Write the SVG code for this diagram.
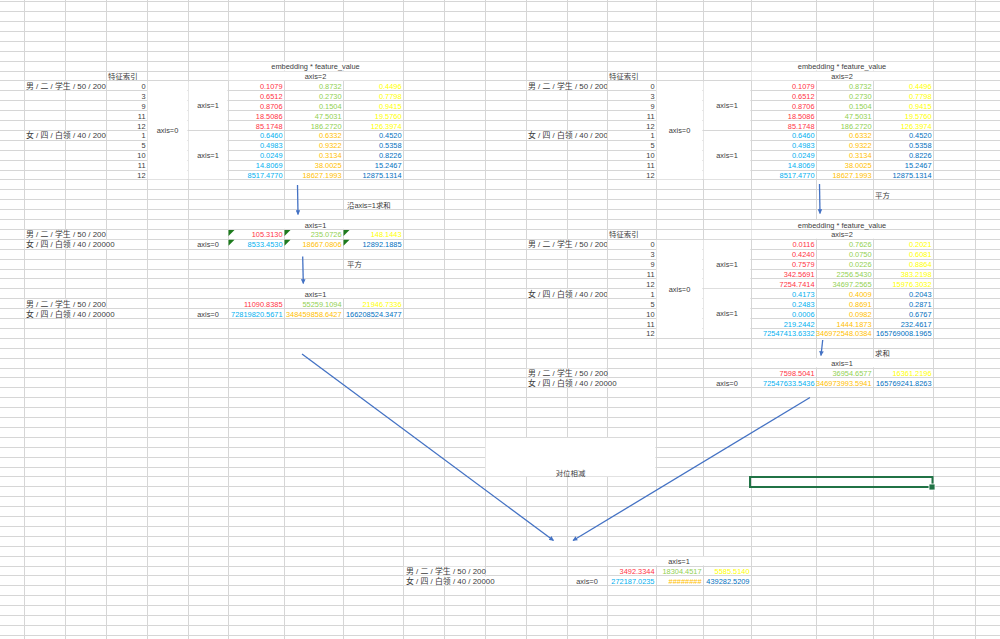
<svg xmlns="http://www.w3.org/2000/svg" width="1000" height="639" viewBox="0 0 1000 639">
<style>
text{font-family:"Liberation Sans","Noto Sans CJK SC",sans-serif;font-size:7.4px;fill:#3c3c3c}
.lb{font-size:7.9px}
.n{text-anchor:end}
.m{text-anchor:middle}
.r{fill:#FF3344}.g{fill:#92D050}.y{fill:#FFFF00}.c{fill:#00B0F0}.o{fill:#FFC000}.b{fill:#0070C0}
.grid{stroke:#D6D6D6;stroke-width:1;fill:none;shape-rendering:crispEdges}
.w{fill:#fff}
.arr{stroke:#4472C4;stroke-width:1.3;fill:none;marker-end:url(#ah)}
.tri{fill:#1E7B1E}
</style>
<defs>
<marker id="ah" viewBox="0 0 10 10" refX="9" refY="5" markerWidth="4" markerHeight="3.6" orient="auto"><path d="M0,0 L10,5 L0,10 z" fill="#4472C4"/></marker>
<clipPath id="cl1"><rect x="24" y="80" width="82" height="100"/></clipPath>
<clipPath id="cl2"><rect x="526" y="80" width="81" height="100"/></clipPath>
<clipPath id="cl3"><rect x="526" y="239" width="81" height="100"/></clipPath>
</defs>
<rect width="1000" height="639" fill="#fff"/>
<g id="grid">
<path class="grid" d="M0,1.7H1000M0,11.6H1000M0,21.5H1000M0,31.4H1000M0,41.3H1000M0,51.2H1000M0,61.1H1000M0,71H1000M0,80.9H1000M0,90.8H1000M0,100.7H1000M0,110.6H1000M0,120.5H1000M0,130.4H1000M0,140.3H1000M0,150.2H1000M0,160.1H1000M0,170H1000M0,179.9H1000M0,189.8H1000M0,199.7H1000M0,209.6H1000M0,219.5H1000M0,229.4H1000M0,239.3H1000M0,249.2H1000M0,259.1H1000M0,269H1000M0,278.9H1000M0,288.8H1000M0,298.7H1000M0,308.6H1000M0,318.5H1000M0,328.4H1000M0,338.3H1000M0,348.2H1000M0,358.1H1000M0,368H1000M0,377.9H1000M0,387.8H1000M0,397.7H1000M0,407.6H1000M0,417.5H1000M0,427.4H1000M0,437.3H1000M0,447.2H1000M0,457.1H1000M0,467H1000M0,476.9H1000M0,486.8H1000M0,496.7H1000M0,506.6H1000M0,516.5H1000M0,526.4H1000M0,536.3H1000M0,546.2H1000M0,556.1H1000M0,566H1000M0,575.9H1000M0,585.8H1000M0,595.7H1000M0,605.6H1000M0,615.5H1000M0,625.4H1000M0,635.3H1000"/>
<path class="grid" d="M24,0V639M65,0V639M106,0V639M147,0V639M188,0V639M228,0V639M284,0V639M343,0V639M403,0V639M444,0V639M485,0V639M526,0V639M567,0V639M607,0V639M656,0V639M703,0V639M751,0V639M816,0V639M873,0V639M933,0V639M975,0V639"/>
<rect class="w" x="228.6" y="61.7" width="173.8" height="8.7"/>
<rect class="w" x="228.6" y="71.6" width="173.8" height="8.7"/>
<rect class="w" x="147.6" y="81.5" width="39.8" height="97.8"/>
<rect class="w" x="188.6" y="81.5" width="38.8" height="48.3"/>
<rect class="w" x="188.6" y="131" width="38.8" height="48.3"/>
<rect class="w" x="228.6" y="220.1" width="173.8" height="8.7"/>
<rect class="w" x="228.6" y="289.4" width="173.8" height="8.7"/>
<rect class="w" x="751.6" y="61.7" width="180.8" height="8.7"/>
<rect class="w" x="751.6" y="71.6" width="180.8" height="8.7"/>
<rect class="w" x="656.6" y="81.5" width="45.8" height="97.8"/>
<rect class="w" x="703.6" y="81.5" width="46.8" height="48.3"/>
<rect class="w" x="703.6" y="131" width="46.8" height="48.3"/>
<rect class="w" x="751.6" y="220.1" width="180.8" height="8.7"/>
<rect class="w" x="751.6" y="230" width="180.8" height="8.7"/>
<rect class="w" x="656.6" y="239.9" width="45.8" height="97.8"/>
<rect class="w" x="703.6" y="239.9" width="46.8" height="48.3"/>
<rect class="w" x="703.6" y="289.4" width="46.8" height="48.3"/>
<rect class="w" x="751.6" y="358.7" width="180.8" height="8.7"/>
<rect class="w" x="607.6" y="556.7" width="142.8" height="8.7"/>
<rect class="w" x="485.6" y="437.9" width="169.8" height="38.4"/>
<rect class="w" x="24.6" y="81.5" width="80.8" height="8.7"/>
<rect class="w" x="24.6" y="131" width="80.8" height="8.7"/>
<rect class="w" x="526.6" y="81.5" width="79.8" height="8.7"/>
<rect class="w" x="526.6" y="131" width="79.8" height="8.7"/>
<rect class="w" x="526.6" y="239.9" width="79.8" height="8.7"/>
<rect class="w" x="526.6" y="289.4" width="79.8" height="8.7"/>
<rect class="w" x="24.6" y="230" width="80.8" height="8.7"/>
<rect class="w" x="24.6" y="239.9" width="121.8" height="8.7"/>
<rect class="w" x="24.6" y="299.3" width="80.8" height="8.7"/>
<rect class="w" x="24.6" y="309.2" width="121.8" height="8.7"/>
<rect class="w" x="526.6" y="368.6" width="79.8" height="8.7"/>
<rect class="w" x="526.6" y="378.5" width="128.8" height="8.7"/>
<rect class="w" x="403.6" y="566.6" width="80.8" height="8.7"/>
<rect class="w" x="403.6" y="576.5" width="121.8" height="8.7"/>
</g>

<g id="connectors">
<path class="arr" d="M297.5,185 L298,214.5"/>
<path class="arr" d="M302.7,256.5 L303.3,283.5"/>
<path class="arr" d="M819.5,184 L820,213.5"/>
<path class="arr" d="M822.7,340 L821,355.5"/>
<path class="arr" d="M302,354 L553.5,540.5"/>
<path class="arr" d="M810,397.5 L573,540.5"/>
</g>

<g id="table-left-top">
<text class="m" x="315.5" y="69.1">embedding * feature_value</text>
<text x="108" y="79">特征索引</text>
<text class="m" x="315.5" y="79">axis=2</text>
<text class="lb" x="26" y="88.9" clip-path="url(#cl1)">男 / 二 / 学生 / 50 / 200</text>
<text class="lb" x="26" y="138.4" clip-path="url(#cl1)">女 / 四 / 白领 / 40 / 20000</text>
<text class="n" x="145.5" y="88.9">0</text>
<text class="n" x="145.5" y="98.8">3</text>
<text class="n" x="145.5" y="108.7">9</text>
<text class="n" x="145.5" y="118.6">11</text>
<text class="n" x="145.5" y="128.5">12</text>
<text class="n" x="145.5" y="138.4">1</text>
<text class="n" x="145.5" y="148.3">5</text>
<text class="n" x="145.5" y="158.2">10</text>
<text class="n" x="145.5" y="168.1">11</text>
<text class="n" x="145.5" y="178">12</text>
<text class="m" x="167.5" y="133.1">axis=0</text>
<text class="m" x="208" y="108.4">axis=1</text>
<text class="m" x="208" y="157.9">axis=1</text>
<text class="n r" x="282.5" y="88.9">0.1079</text>
<text class="n r" x="282.5" y="98.8">0.6512</text>
<text class="n r" x="282.5" y="108.7">0.8706</text>
<text class="n r" x="282.5" y="118.6">18.5086</text>
<text class="n r" x="282.5" y="128.5">85.1748</text>
<text class="n g" x="341.5" y="88.9">0.8732</text>
<text class="n g" x="341.5" y="98.8">0.2730</text>
<text class="n g" x="341.5" y="108.7">0.1504</text>
<text class="n g" x="341.5" y="118.6">47.5031</text>
<text class="n g" x="341.5" y="128.5">186.2720</text>
<text class="n y" x="401.5" y="88.9">0.4496</text>
<text class="n y" x="401.5" y="98.8">0.7798</text>
<text class="n y" x="401.5" y="108.7">0.9415</text>
<text class="n y" x="401.5" y="118.6">19.5760</text>
<text class="n y" x="401.5" y="128.5">126.3974</text>
<text class="n c" x="282.5" y="138.4">0.6460</text>
<text class="n c" x="282.5" y="148.3">0.4983</text>
<text class="n c" x="282.5" y="158.2">0.0249</text>
<text class="n c" x="282.5" y="168.1">14.8069</text>
<text class="n c" x="282.5" y="178">8517.4770</text>
<text class="n o" x="341.5" y="138.4">0.6332</text>
<text class="n o" x="341.5" y="148.3">0.9322</text>
<text class="n o" x="341.5" y="158.2">0.3134</text>
<text class="n o" x="341.5" y="168.1">38.0025</text>
<text class="n o" x="341.5" y="178">18627.1993</text>
<text class="n b" x="401.5" y="138.4">0.4520</text>
<text class="n b" x="401.5" y="148.3">0.5358</text>
<text class="n b" x="401.5" y="158.2">0.8226</text>
<text class="n b" x="401.5" y="168.1">15.2467</text>
<text class="n b" x="401.5" y="178">12875.1314</text>
</g>

<g id="label-sum">
<text x="347" y="207.7">沿axis=1求和</text>
</g>

<g id="table-left-sum">
<text class="m" x="315.5" y="227.5">axis=1</text>
<text class="lb" x="26" y="237.4">男 / 二 / 学生 / 50 / 200</text>
<text class="lb" x="26" y="247.3">女 / 四 / 白领 / 40 / 20000</text>
<text class="m" x="208" y="247.3">axis=0</text>
<text class="n r" x="282.5" y="237.4">105.3130</text>
<text class="n g" x="341.5" y="237.4">235.0726</text>
<text class="n y" x="401.5" y="237.4">148.1443</text>
<text class="n c" x="282.5" y="247.3">8533.4530</text>
<text class="n o" x="341.5" y="247.3">18667.0806</text>
<text class="n b" x="401.5" y="247.3">12892.1885</text>
<polygon class="tri" points="228.5,229.9 234.5,229.9 228.5,235.9"/>
<polygon class="tri" points="284.5,229.9 290.5,229.9 284.5,235.9"/>
<polygon class="tri" points="343.5,229.9 349.5,229.9 343.5,235.9"/>
<polygon class="tri" points="228.5,239.8 234.5,239.8 228.5,245.8"/>
<polygon class="tri" points="284.5,239.8 290.5,239.8 284.5,245.8"/>
<polygon class="tri" points="343.5,239.8 349.5,239.8 343.5,245.8"/>
</g>

<g id="label-square-left">
<text x="347" y="267.1">平方</text>
</g>

<g id="table-left-square">
<text class="m" x="315.5" y="296.8">axis=1</text>
<text class="lb" x="26" y="306.7">男 / 二 / 学生 / 50 / 200</text>
<text class="lb" x="26" y="316.6">女 / 四 / 白领 / 40 / 20000</text>
<text class="m" x="208" y="316.6">axis=0</text>
<text class="n r" x="282.5" y="306.7">11090.8385</text>
<text class="n g" x="341.5" y="306.7">55259.1094</text>
<text class="n y" x="401.5" y="306.7">21946.7336</text>
<text class="n c" x="282.5" y="316.6">72819820.5671</text>
<text class="n o" x="341.5" y="316.6">348459858.6427</text>
<text class="n b" x="401.5" y="316.6">166208524.3477</text>
</g>

<g id="table-right-top">
<text class="m" x="842" y="69.1">embedding * feature_value</text>
<text x="609" y="79">特征索引</text>
<text class="m" x="842" y="79">axis=2</text>
<text class="lb" x="528" y="88.9" clip-path="url(#cl2)">男 / 二 / 学生 / 50 / 200</text>
<text class="lb" x="528" y="138.4" clip-path="url(#cl2)">女 / 四 / 白领 / 40 / 20000</text>
<text class="n" x="654.5" y="88.9">0</text>
<text class="n" x="654.5" y="98.8">3</text>
<text class="n" x="654.5" y="108.7">9</text>
<text class="n" x="654.5" y="118.6">11</text>
<text class="n" x="654.5" y="128.5">12</text>
<text class="n" x="654.5" y="138.4">1</text>
<text class="n" x="654.5" y="148.3">5</text>
<text class="n" x="654.5" y="158.2">10</text>
<text class="n" x="654.5" y="168.1">11</text>
<text class="n" x="654.5" y="178">12</text>
<text class="m" x="679.5" y="133.1">axis=0</text>
<text class="m" x="727" y="108.4">axis=1</text>
<text class="m" x="727" y="157.9">axis=1</text>
<text class="n r" x="814.5" y="88.9">0.1079</text>
<text class="n r" x="814.5" y="98.8">0.6512</text>
<text class="n r" x="814.5" y="108.7">0.8706</text>
<text class="n r" x="814.5" y="118.6">18.5086</text>
<text class="n r" x="814.5" y="128.5">85.1748</text>
<text class="n g" x="871.5" y="88.9">0.8732</text>
<text class="n g" x="871.5" y="98.8">0.2730</text>
<text class="n g" x="871.5" y="108.7">0.1504</text>
<text class="n g" x="871.5" y="118.6">47.5031</text>
<text class="n g" x="871.5" y="128.5">186.2720</text>
<text class="n y" x="931.5" y="88.9">0.4496</text>
<text class="n y" x="931.5" y="98.8">0.7798</text>
<text class="n y" x="931.5" y="108.7">0.9415</text>
<text class="n y" x="931.5" y="118.6">19.5760</text>
<text class="n y" x="931.5" y="128.5">126.3974</text>
<text class="n c" x="814.5" y="138.4">0.6460</text>
<text class="n c" x="814.5" y="148.3">0.4983</text>
<text class="n c" x="814.5" y="158.2">0.0249</text>
<text class="n c" x="814.5" y="168.1">14.8069</text>
<text class="n c" x="814.5" y="178">8517.4770</text>
<text class="n o" x="871.5" y="138.4">0.6332</text>
<text class="n o" x="871.5" y="148.3">0.9322</text>
<text class="n o" x="871.5" y="158.2">0.3134</text>
<text class="n o" x="871.5" y="168.1">38.0025</text>
<text class="n o" x="871.5" y="178">18627.1993</text>
<text class="n b" x="931.5" y="138.4">0.4520</text>
<text class="n b" x="931.5" y="148.3">0.5358</text>
<text class="n b" x="931.5" y="158.2">0.8226</text>
<text class="n b" x="931.5" y="168.1">15.2467</text>
<text class="n b" x="931.5" y="178">12875.1314</text>
</g>

<g id="label-square-right">
<text x="875" y="197.8">平方</text>
</g>

<g id="table-right-square">
<text class="m" x="842" y="227.5">embedding * feature_value</text>
<text x="609" y="237.4">特征索引</text>
<text class="m" x="842" y="237.4">axis=2</text>
<text class="lb" x="528" y="247.3" clip-path="url(#cl3)">男 / 二 / 学生 / 50 / 200</text>
<text class="lb" x="528" y="296.8" clip-path="url(#cl3)">女 / 四 / 白领 / 40 / 20000</text>
<text class="n" x="654.5" y="247.3">0</text>
<text class="n" x="654.5" y="257.2">3</text>
<text class="n" x="654.5" y="267.1">9</text>
<text class="n" x="654.5" y="277">11</text>
<text class="n" x="654.5" y="286.9">12</text>
<text class="n" x="654.5" y="296.8">1</text>
<text class="n" x="654.5" y="306.7">5</text>
<text class="n" x="654.5" y="316.6">10</text>
<text class="n" x="654.5" y="326.5">11</text>
<text class="n" x="654.5" y="336.4">12</text>
<text class="m" x="679.5" y="291.5">axis=0</text>
<text class="m" x="727" y="266.8">axis=1</text>
<text class="m" x="727" y="316.3">axis=1</text>
<text class="n r" x="814.5" y="247.3">0.0116</text>
<text class="n r" x="814.5" y="257.2">0.4240</text>
<text class="n r" x="814.5" y="267.1">0.7579</text>
<text class="n r" x="814.5" y="277">342.5691</text>
<text class="n r" x="814.5" y="286.9">7254.7414</text>
<text class="n g" x="871.5" y="247.3">0.7626</text>
<text class="n g" x="871.5" y="257.2">0.0750</text>
<text class="n g" x="871.5" y="267.1">0.0226</text>
<text class="n g" x="871.5" y="277">2256.5430</text>
<text class="n g" x="871.5" y="286.9">34697.2565</text>
<text class="n y" x="931.5" y="247.3">0.2021</text>
<text class="n y" x="931.5" y="257.2">0.6081</text>
<text class="n y" x="931.5" y="267.1">0.8864</text>
<text class="n y" x="931.5" y="277">383.2198</text>
<text class="n y" x="931.5" y="286.9">15976.3032</text>
<text class="n c" x="814.5" y="296.8">0.4173</text>
<text class="n c" x="814.5" y="306.7">0.2483</text>
<text class="n c" x="814.5" y="316.6">0.0006</text>
<text class="n c" x="814.5" y="326.5">219.2442</text>
<text class="n c" x="814.5" y="336.4">72547413.6332</text>
<text class="n o" x="871.5" y="296.8">0.4009</text>
<text class="n o" x="871.5" y="306.7">0.8691</text>
<text class="n o" x="871.5" y="316.6">0.0982</text>
<text class="n o" x="871.5" y="326.5">1444.1873</text>
<text class="n o" x="871.5" y="336.4">346972548.0384</text>
<text class="n b" x="931.5" y="296.8">0.2043</text>
<text class="n b" x="931.5" y="306.7">0.2871</text>
<text class="n b" x="931.5" y="316.6">0.6767</text>
<text class="n b" x="931.5" y="326.5">232.4617</text>
<text class="n b" x="931.5" y="336.4">165769008.1965</text>
</g>

<g id="label-sum-right">
<text x="875" y="356.2">求和</text>
</g>

<g id="table-right-sum">
<text class="m" x="842" y="366.1">axis=1</text>
<text class="lb" x="528" y="376">男 / 二 / 学生 / 50 / 200</text>
<text class="lb" x="528" y="385.9">女 / 四 / 白领 / 40 / 20000</text>
<text class="m" x="727" y="385.9">axis=0</text>
<text class="n r" x="814.5" y="376">7598.5041</text>
<text class="n g" x="871.5" y="376">36954.6577</text>
<text class="n y" x="931.5" y="376">16361.2196</text>
<text class="n c" x="814.5" y="385.9">72547633.5436</text>
<text class="n o" x="871.5" y="385.9">346973993.5941</text>
<text class="n b" x="931.5" y="385.9">165769241.8263</text>
</g>

<g id="label-subtract">
<text class="m" x="570.5" y="475.5">对位相减</text>
</g>

<g id="selection">
<rect x="750" y="477" width="182.5" height="10" fill="none" stroke="#217346" stroke-width="2"/>
<rect x="929" y="484" width="6" height="6" fill="#217346" stroke="#fff" stroke-width="0.8"/>
</g>

<g id="table-result">
<text class="m" x="679" y="564.1">axis=1</text>
<text class="lb" x="406" y="574">男 / 二 / 学生 / 50 / 200</text>
<text class="lb" x="406" y="583.9">女 / 四 / 白领 / 40 / 20000</text>
<text class="m" x="587" y="583.9">axis=0</text>
<text class="n r" x="654.5" y="574">3492.3344</text>
<text class="n g" x="701.5" y="574">18304.4517</text>
<text class="n y" x="749.5" y="574">5585.5140</text>
<text class="n c" x="654.5" y="583.9">272187.0235</text>
<text class="n o" x="701.5" y="583.9">########</text>
<text class="n b" x="749.5" y="583.9">439282.5209</text>
</g>
</svg>
